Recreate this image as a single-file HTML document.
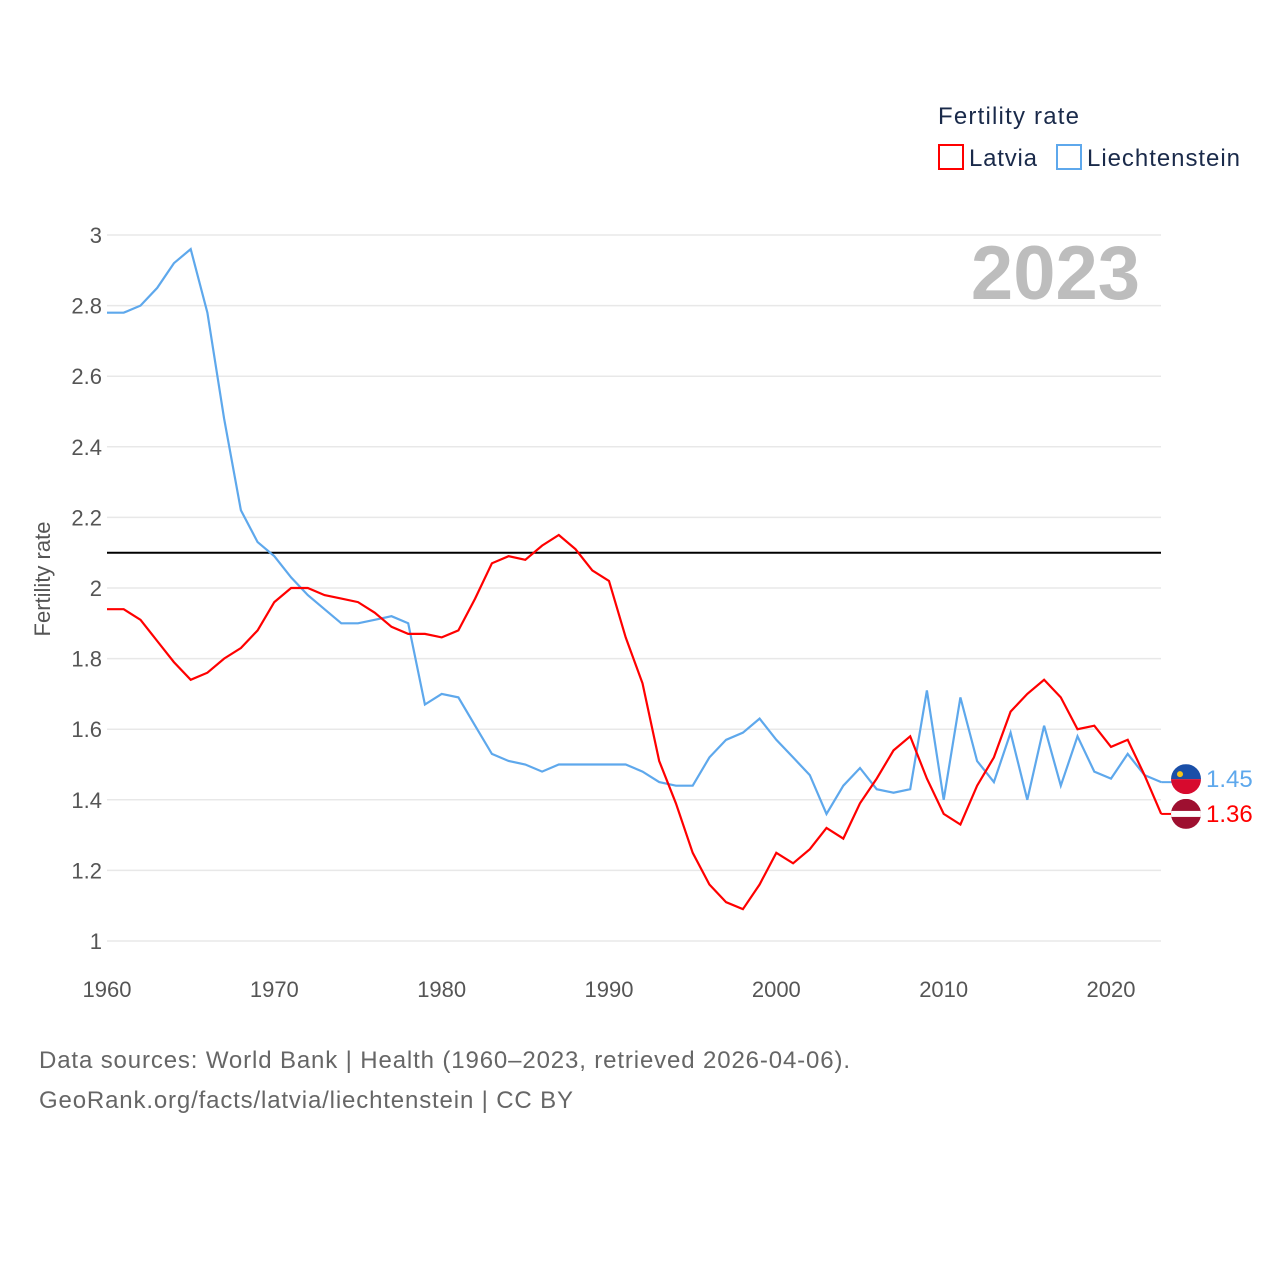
<!DOCTYPE html>
<html><head><meta charset="utf-8"><style>
body{margin:0;background:#fff;font-family:"Liberation Sans",sans-serif}
svg text{font-family:"Liberation Sans",sans-serif}
</style></head><body>
<svg width="1280" height="1280" viewBox="0 0 1280 1280">
<g id="grid"></g>
<g id="yticks"></g>
<g id="xticks"></g>
<text x="1140" y="299" font-size="76" font-weight="bold" fill="#bdbdbd" text-anchor="end">2023</text>
<text transform="translate(50,579) rotate(-90)" font-size="22" fill="#555" text-anchor="middle">Fertility rate</text>
<line id="refline" x1="107" x2="1161" stroke="#000" stroke-width="2"/>
<path id="lie" fill="none" stroke="#5ea8ec" stroke-width="2.2"/>
<path id="lat" fill="none" stroke="#f00" stroke-width="2.2"/>
<g>
<text x="938" y="124" font-size="24" fill="#1a2a4a" textLength="141">Fertility rate</text>
<rect x="939" y="145" width="24" height="24" fill="none" stroke="#f00" stroke-width="2"/>
<text x="969" y="166" font-size="24" fill="#1a2a4a" textLength="68">Latvia</text>
<rect x="1057" y="145" width="24" height="24" fill="none" stroke="#5ea8ec" stroke-width="2"/>
<text x="1087" y="166" font-size="24" fill="#1a2a4a" textLength="153">Liechtenstein</text>
</g>
<g id="ends"></g>
<text x="39" y="1068" font-size="24" fill="#666" textLength="811">Data sources: World Bank | Health (1960–2023, retrieved 2026-04-06).</text>
<text x="39" y="1108" font-size="24" fill="#666" textLength="534">GeoRank.org/facts/latvia/liechtenstein | CC BY</text>
</svg>
<script>
const years=[];for(let y=1960;y<=2023;y++)years.push(y);
const latvia=[1.94,1.94,1.91,1.85,1.79,1.74,1.76,1.80,1.83,1.88,1.96,2.00,2.00,1.98,1.97,1.96,1.93,1.89,1.87,1.87,1.86,1.88,1.97,2.07,2.09,2.08,2.12,2.15,2.11,2.05,2.02,1.86,1.73,1.51,1.39,1.25,1.16,1.11,1.09,1.16,1.25,1.22,1.26,1.32,1.29,1.39,1.46,1.54,1.58,1.46,1.36,1.33,1.44,1.52,1.65,1.70,1.74,1.69,1.60,1.61,1.55,1.57,1.47,1.36];
const liechtenstein=[2.78,2.78,2.80,2.85,2.92,2.96,2.78,2.48,2.22,2.13,2.09,2.03,1.98,1.94,1.90,1.90,1.91,1.92,1.90,1.67,1.70,1.69,1.61,1.53,1.51,1.50,1.48,1.50,1.50,1.50,1.50,1.50,1.48,1.45,1.44,1.44,1.52,1.57,1.59,1.63,1.57,1.52,1.47,1.36,1.44,1.49,1.43,1.42,1.43,1.71,1.40,1.69,1.51,1.45,1.59,1.40,1.61,1.44,1.58,1.48,1.46,1.53,1.47,1.45];
const yTicks=[1,1.2,1.4,1.6,1.8,2,2.2,2.4,2.6,2.8,3];
const xTicks=[1960,1970,1980,1990,2000,2010,2020];
const refValue=2.1;
const X=v=>107+(v-1960)*(1111-107)/60;
const Y=v=>941-(v-1)*(941-235)/2;
const NS='http://www.w3.org/2000/svg';
function mk(tag,attrs,parent){const e=document.createElementNS(NS,tag);for(const k in attrs)e.setAttribute(k,attrs[k]);document.getElementById(parent).appendChild(e);return e;}
yTicks.forEach(t=>{
  const l=mk('line',{x1:107,x2:1161,y1:Y(t),y2:Y(t),stroke:'#e8e8e8','stroke-width':1.5},'grid');
  
  
  const tx=mk('text',{x:102,y:Y(t)+8,'font-size':22,fill:'#555','text-anchor':'end'},'yticks');
  tx.textContent=String(t);
  
  
});
xTicks.forEach(t=>{
  const tx=mk('text',{x:X(t),y:997,'font-size':22,fill:'#555','text-anchor':'middle'},'xticks');
  tx.textContent=String(t);
  
  
});
const rl=document.getElementById('refline');rl.setAttribute('y1',Y(refValue));rl.setAttribute('y2',Y(refValue));
const path=a=>a.map((v,i)=>(i?'L':'M')+X(years[i]).toFixed(1)+' '+Y(v).toFixed(1)).join('');
document.getElementById('lat').setAttribute('d',path(latvia));
document.getElementById('lie').setAttribute('d',path(liechtenstein));
function endLabel(val,color,flag,name,dy){
  const y0=Y(val);
  const y=y0+dy;
  const ln=mk('line',{x1:X(2023),x2:1172,y1:y0,y2:y0,stroke:color,'stroke-width':2},'ends');
  
  
  const g=mk('g',{},'ends');
  
  
  const cx=1186,r=15;
  if(flag==='lie'){
    g.innerHTML=`<clipPath id="c1"><circle cx="${cx}" cy="${y}" r="${r}"/></clipPath><g clip-path="url(#c1)"><rect x="${cx-r}" y="${y-r}" width="30" height="15" fill="#1a4fa8"/><rect x="${cx-r}" y="${y}" width="30" height="15" fill="#d70a2e"/><circle cx="${cx-6}" cy="${y-5}" r="3" fill="#f5c518"/></g>`;
  } else {
    g.innerHTML=`<clipPath id="c2"><circle cx="${cx}" cy="${y}" r="${r}"/></clipPath><g clip-path="url(#c2)"><rect x="${cx-r}" y="${y-r}" width="30" height="30" fill="#9e1030"/><rect x="${cx-r}" y="${y-3}" width="30" height="6" fill="#fff"/></g>`;
  }
  const tx=mk('text',{x:1206,y:y+8,'font-size':24,fill:color},'ends');
  tx.textContent=val.toFixed(2);
  
  
}
endLabel(liechtenstein[liechtenstein.length-1],'#5ea8ec','lie','liechtenstein',-3);
endLabel(latvia[latvia.length-1],'#f00','lat','latvia',0);
</script>
</body></html>
